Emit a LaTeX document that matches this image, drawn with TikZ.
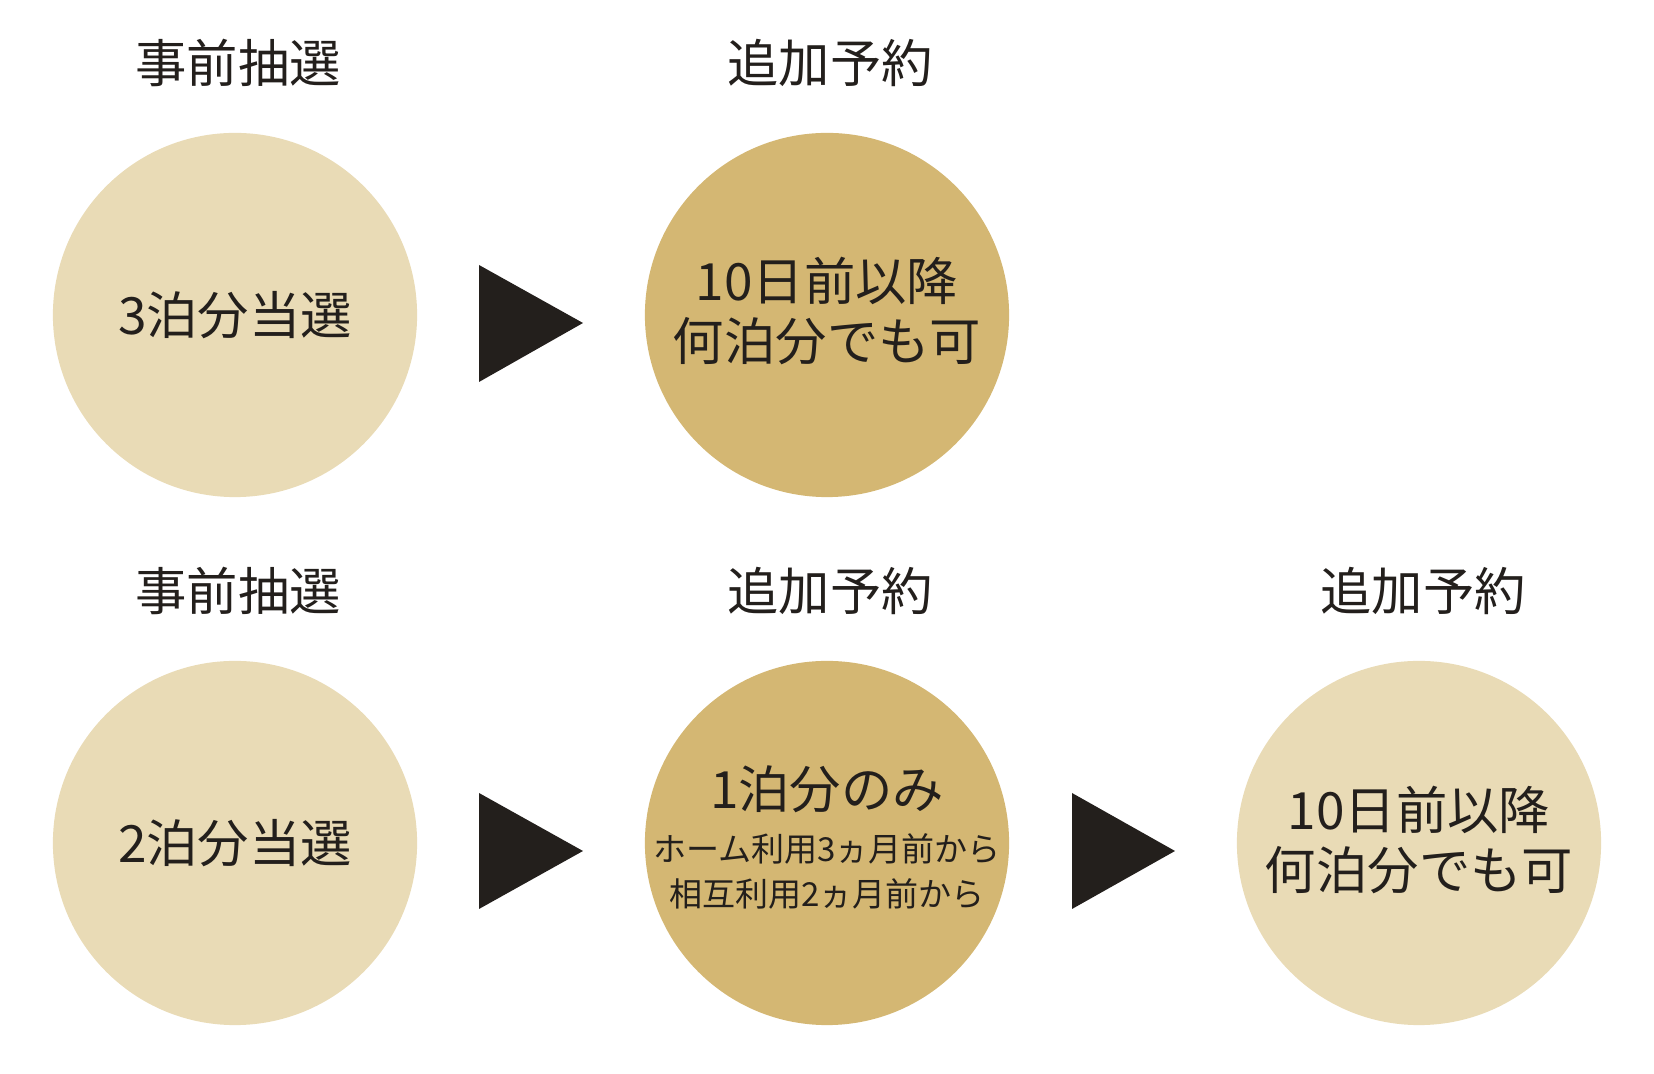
\documentclass[tikz,border=0pt]{standalone}
\usepackage{fontspec}
\setmainfont{Noto Sans CJK JP}
\usepackage{xcolor}
\usetikzlibrary{positioning}

\definecolor{lightgold}{HTML}{E9DBB6}
\definecolor{darkgold}{HTML}{D4B773}
\definecolor{inkdark}{HTML}{231F1C}

\tikzset{
  stage/.style={circle, minimum size=3.64cm, inner sep=0pt, text=inkdark},
  title/.style={text=inkdark, font=\fontsize{14.6}{17}\selectfont},
  bigtxt/.style={text=inkdark, align=center, font=\fontsize{14.6}{17.3}\selectfont},
  smalltxt/.style={text=inkdark, font=\fontsize{9.4}{11}\selectfont},
  arrowfill/.style={fill=inkdark}
}

\begin{document}
\begin{tikzpicture}[x=0.01cm, y=-0.01cm]
\useasboundingbox (0,0) rectangle (1654,1074);
% upper row
\node[title] (t1) at (238,63) {事前抽選};
\node[title] (t2) at (830,63) {追加予約};
\node[stage, fill=lightgold] (c1) at (235,315) {};
\node[stage, fill=darkgold] (c2) at (827,315) {};
\node[bigtxt] (l1) at (c1) {3泊分当選};
\node[bigtxt] (l2) at (827,311) {10日前以降\\何泊分でも可};
\fill[arrowfill] (479,265) -- (583,323) -- (479,382) -- cycle;
% lower row
\node[title] (t3) at (238,591) {事前抽選};
\node[title] (t4) at (830,591) {追加予約};
\node[title] (t5) at (1423,591) {追加予約};
\node[stage, fill=lightgold] (c3) at (235,843) {};
\node[stage, fill=darkgold] (c4) at (827,843) {};
\node[stage, fill=lightgold] (c5) at (1419,843) {};
\node[bigtxt] (l3) at (c3) {2泊分当選};
\node[bigtxt] (l4a) at (827,789) {1泊分のみ};
\node[smalltxt] (l4b) at (827,849) {ホーム利用3ヵ月前から};
\node[smalltxt] (l4c) at (827,894) {相互利用2ヵ月前から};
\node[bigtxt] (l5) at (1419,840) {10日前以降\\何泊分でも可};
\fill[arrowfill] (479,793) -- (583,851) -- (479,909) -- cycle;
\fill[arrowfill] (1072,793) -- (1175,851) -- (1072,909) -- cycle;
\end{tikzpicture}
\end{document}
